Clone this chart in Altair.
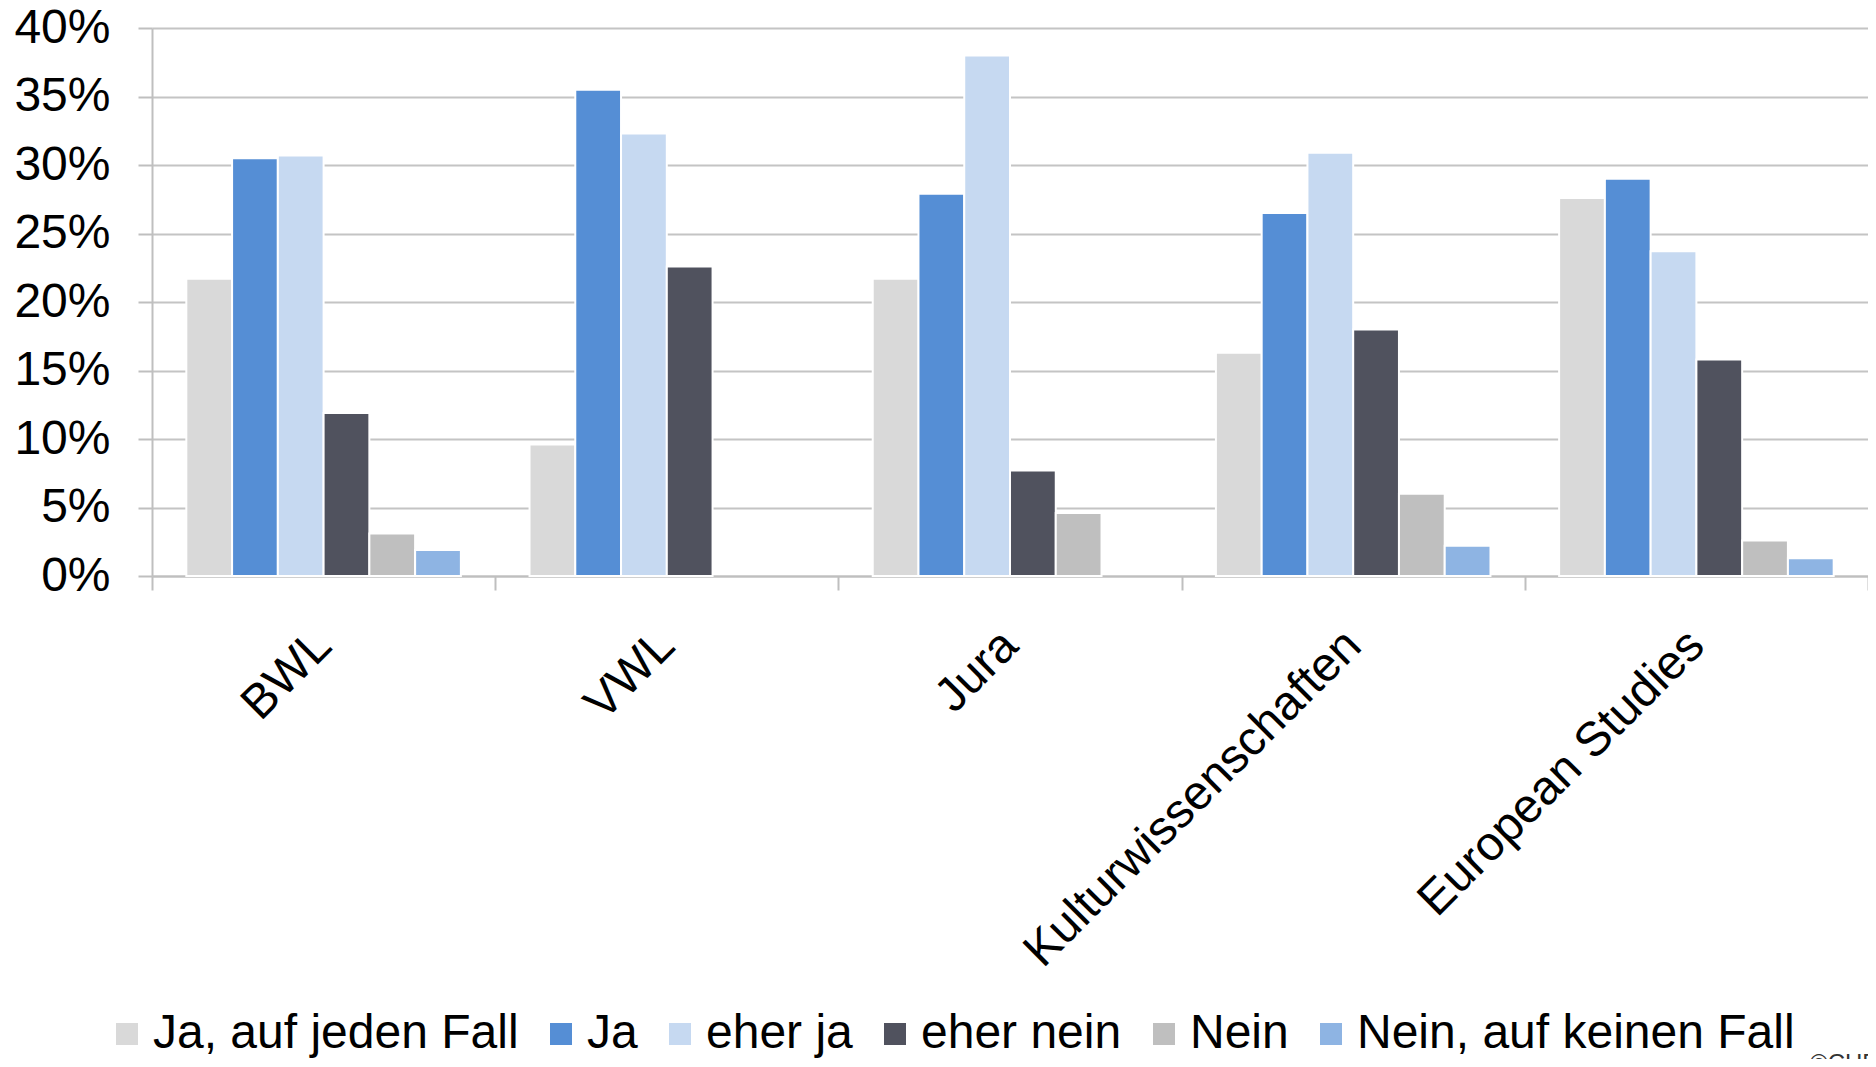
import altair as alt
import pandas as pd

# Categories and series (values in %)
categories = ["BWL", "VWL", "Jura", "Kulturwissenschaften", "European Studies"]
series = ["Ja, auf jeden Fall", "Ja", "eher ja", "eher nein", "Nein", "Nein, auf keinen Fall"]
colors = ["#D9D9D9", "#558ED5", "#C6D9F1", "#50525E", "#BFBFBF", "#8EB4E3"]

ja_auf_jeden_fall = [21.7, 9.6, 21.7, 16.3, 27.6]
ja = [30.5, 35.5, 27.9, 26.5, 29.0]
eher_ja = [30.7, 32.3, 38.0, 30.9, 23.7]
eher_nein = [11.9, 22.6, 7.7, 18.0, 15.8]
nein = [3.1, None, 4.6, 6.0, 2.6]
nein_auf_keinen_fall = [1.9, None, None, 2.2, 1.3]

y_ticks = [0, 0.05, 0.10, 0.15, 0.20, 0.25, 0.30, 0.35, 0.40]

all_series = [ja_auf_jeden_fall, ja, eher_ja, eher_nein, nein, nein_auf_keinen_fall]
rows = []
for s_name, vals in zip(series, all_series):
    for cat, v in zip(categories, vals):
        if v is not None:
            rows.append({"Fach": cat, "Antwort": s_name, "Wert": v / 100.0})
df = pd.DataFrame(rows)

FONT = "Liberation Sans"

bars = alt.Chart(df).mark_bar(stroke="white", strokeWidth=2).encode(
    x=alt.X(
        "Fach:N",
        sort=categories,
        scale=alt.Scale(paddingInner=0, paddingOuter=0),
        axis=alt.Axis(
            title=None,
            labelAngle=-45,
            labelAlign="right",
            labelBaseline="middle",
            labelFont=FONT,
            labelFontSize=48,
            labelColor="black",
            labelPadding=48,
            labelLimit=1000,
            tickBand="extent",
            tickSize=14,
            tickColor="#BFBFBF",
            tickWidth=2,
            domainColor="#BFBFBF",
            domainWidth=2,
            grid=False,
            labelOverlap=False,
        ),
    ),
    xOffset=alt.XOffset(
        "Antwort:N",
        sort=series,
        scale=alt.Scale(paddingOuter=0.75, paddingInner=0),
    ),
    y=alt.Y(
        "Wert:Q",
        scale=alt.Scale(domain=[0, 0.4], nice=False),
        axis=alt.Axis(
            title=None,
            values=y_ticks,
            format=".0%",
            labelFont=FONT,
            labelFontSize=48,
            labelColor="black",
            labelPadding=28,
            tickSize=14,
            tickColor="#BFBFBF",
            tickWidth=2,
            domainColor="#BFBFBF",
            domainWidth=2,
            gridColor="#C4C4C4",
            gridWidth=2,
        ),
    ),
    color=alt.Color(
        "Antwort:N",
        sort=series,
        scale=alt.Scale(domain=series, range=colors),
        legend=alt.Legend(
            title=None,
            orient="none",
            direction="horizontal",
            columns=6,
            legendX=-49,
            legendY=982,
            padding=0,
            symbolType="square",
            symbolSize=484,
            symbolStrokeWidth=0,
            labelFont=FONT,
            labelFontSize=48,
            labelColor="black",
            labelOffset=2,
            columnPadding=18,
            labelLimit=0,
        ),
    ),
)

logo = alt.Chart(pd.DataFrame({"t": ["©CHE"]})).mark_text(
    align="left", baseline="top", font=FONT, fontSize=24, color="#333333"
).encode(text="t:N", x=alt.value(1658), y=alt.value(1024))

chart = alt.layer(bars, logo).properties(
    width=1716,
    height=548,
    autosize=alt.AutoSizeParams(type="none"),
    padding={"left": 144, "top": 20, "right": 0, "bottom": 483},
).configure_view(stroke=None)

chart.save("out.html", embed_options={"renderer": "svg", "actions": False})
